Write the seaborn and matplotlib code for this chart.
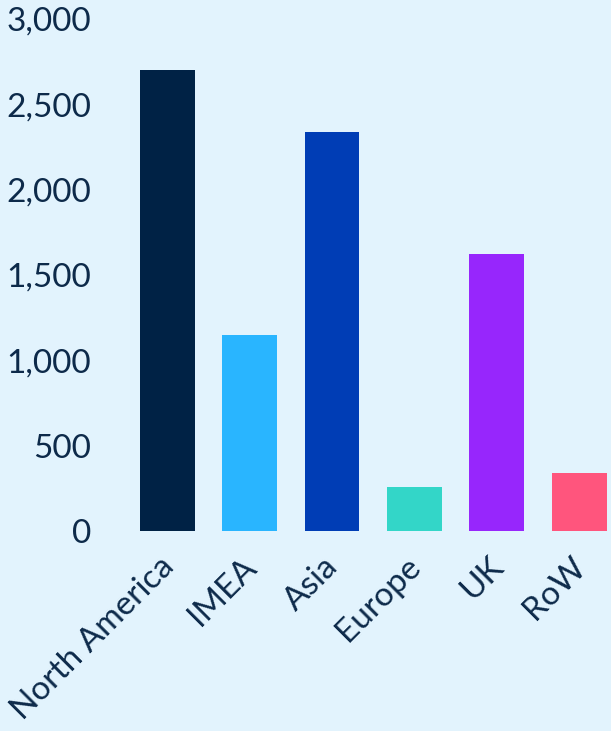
import matplotlib
matplotlib.use("Agg")
import matplotlib.pyplot as plt
import matplotlib.transforms as mtransforms
import seaborn as sns
import pandas as pd
from matplotlib.ticker import FuncFormatter, MultipleLocator

regions = ["North America", "IMEA", "Asia", "Europe", "UK", "RoW"]
values = [2700, 1150, 2340, 260, 1625, 340]
colors = ["#002245", "#29B5FF", "#003DB5", "#33D6C8", "#9726FC", "#FF557D"]

bg = "#E2F3FD"
txt = "#0D2A4A"

sns.set_theme(style="white")
plt.rcParams["font.family"] = ["Lato", "DejaVu Sans"]

df = pd.DataFrame({"region": regions, "value": values})

fig = plt.figure(figsize=(6.11, 7.31), dpi=100, facecolor=bg)
W, H = 611, 731
left_px, right_px = 126, 611
top_px, bottom_px = 19, 531
ax = fig.add_axes([left_px / W, (H - bottom_px) / H, (right_px - left_px) / W, (bottom_px - top_px) / H])
ax.set_facecolor(bg)

sns.barplot(data=df, x="region", y="value", hue="region", palette=colors,
            legend=False, width=0.667, ax=ax, saturation=1, linewidth=0)

ax.set_xlim(-0.5, (right_px - left_px) / 82.4 - 0.5)
ax.set_ylim(0, 3000)
ax.yaxis.set_major_locator(MultipleLocator(500))
ax.yaxis.set_major_formatter(FuncFormatter(lambda v, p: f"{int(v):,}"))
ax.set_xlabel("")
ax.set_ylabel("")
for s in ax.spines.values():
    s.set_visible(False)
ax.tick_params(axis="y", length=0, pad=25, labelsize=24, labelcolor=txt)
ax.tick_params(axis="x", length=0, pad=4, labelsize=24, labelcolor=txt)
offset = mtransforms.ScaledTranslation(-9 / 100, -15 / 100, fig.dpi_scale_trans)
for lab in ax.get_xticklabels():
    lab.set_rotation(45)
    lab.set_ha("right")
    lab.set_va("top")
    lab.set_rotation_mode("anchor")
    lab.set_transform(lab.get_transform() + offset)

fig.savefig("out.png", dpi=100, facecolor=bg)
